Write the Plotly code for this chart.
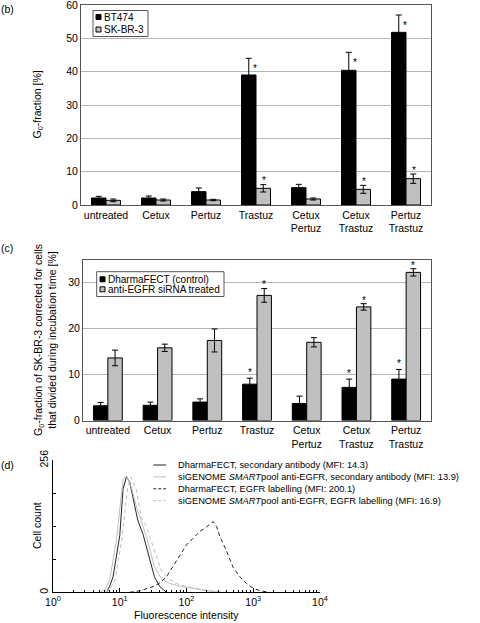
import plotly.graph_objects as go

W, H = 480, 623
def px(x): return x / W
def py(y): return 1 - y / H

FONT = "Liberation Sans, Arial, Helvetica, sans-serif"
GREY = "#c0c0c0"

# ---------------- data ----------------
categories = ["untreated", "Cetux", "Pertuz", "Trastuz",
              "Cetux<br>Pertuz", "Cetux<br>Trastuz", "Pertuz<br>Trastuz"]

# panel (b)
bt474 = [2.1, 2.1, 4.0, 39.0, 5.2, 40.4, 51.8]
bt474_err = [0.5, 0.6, 1.1, 5.0, 1.0, 5.4, 5.2]
skbr3 = [1.4, 1.5, 1.5, 5.0, 1.8, 4.7, 7.9]
skbr3_err = [0.4, 0.3, 0.2, 1.1, 0.3, 1.2, 1.4]
signif_b = [False, False, False, True, False, True, True]

# panel (c)
dharma = [3.2, 3.3, 4.0, 7.9, 3.7, 7.2, 9.0]
dharma_err = [0.7, 0.7, 0.7, 1.3, 1.6, 1.8, 2.1]
anti_egfr = [13.6, 15.8, 17.4, 27.2, 17.0, 24.7, 32.2]
anti_egfr_err = [1.7, 0.8, 2.5, 1.5, 1.0, 0.7, 0.8]
signif_c = [False, False, False, True, False, True, True]

# panel (d) histograms (fluorescence intensity, cell count)
df_sec_x = [6.31, 7.08, 7.94, 9.44, 10.0, 11.2, 12.6, 14.1, 15.8, 18.6, 22.4, 28.2, 33.1, 39.8, 44.7, 50.1]
df_sec_y = [0, 12, 30, 95, 110, 200, 224, 214, 185, 140, 112, 63, 30, 11, 5, 0]
sig_sec_x = [5.01, 6.03, 7.08, 8.91, 11.2, 12.6, 14.8, 17.8, 25.1, 33.1, 41.7, 56.2, 79.4, 126, 200, 316]
sig_sec_y = [0, 5, 24, 101, 218, 226, 205, 166, 108, 50, 27, 17, 12, 7, 3, 0]
df_egfr_x = [14.1, 20.0, 31.6, 39.8, 50.1, 70.8, 100, 126, 158, 200, 251, 282, 316, 398, 501, 631, 794, 1000, 1259, 1778]
df_egfr_y = [0, 3, 11, 18, 30, 62, 92, 105, 118, 127, 137, 128, 108, 80, 48, 30, 17, 8, 3, 0]
sig_egfr_x = [6.03, 7.08, 8.51, 10.7, 13.2, 14.8, 17.8, 20.9, 25.1, 29.5, 35.5, 41.7, 52.5, 70.8, 100, 200, 398]
sig_egfr_y = [0, 5, 24, 101, 205, 223, 198, 147, 127, 101, 69, 43, 27, 17, 11, 4, 0]

hist_names = [
    "DharmaFECT, secondary antibody (MFI: 14.3)",
    "siGENOME <i>SMART</i>pool anti-EGFR, secondary antibody (MFI: 13.9)",
    "DharmaFECT, EGFR labelling (MFI: 200.1)",
    "siGENOME <i>SMART</i>pool anti-EGFR, EGFR labelling (MFI: 16.9)",
]
hist_colors = ["#222222", "#bdbdbd", "#222222", "#bdbdbd"]
hist_dash = ["solid", "solid", "4px,3px", "4px,3px"]

decades = [1, 10, 100, 1000, 10000]
decade_labels = ["10<sup>0</sup>", "10<sup>1</sup>", "10<sup>2</sup>", "10<sup>3</sup>", "10<sup>4</sup>"]

# ---------------- figure ----------------
fig = go.Figure()
errstyle = dict(type="data", color="black", thickness=1, width=3)

fig.add_trace(go.Bar(x=categories, y=bt474, name="BT474", marker=dict(color="black", line=dict(color="black", width=1)),
                     error_y=dict(array=bt474_err, **errstyle), xaxis="x", yaxis="y", offsetgroup="1", showlegend=False))
fig.add_trace(go.Bar(x=categories, y=skbr3, name="SK-BR-3", marker=dict(color=GREY, line=dict(color="black", width=1)),
                     error_y=dict(array=skbr3_err, **errstyle), xaxis="x", yaxis="y", offsetgroup="2", showlegend=False))
fig.add_trace(go.Bar(x=categories, y=dharma, name="DharmaFECT (control)", marker=dict(color="black", line=dict(color="black", width=1)),
                     error_y=dict(array=dharma_err, **errstyle), xaxis="x2", yaxis="y2", offsetgroup="1", showlegend=False))
fig.add_trace(go.Bar(x=categories, y=anti_egfr, name="anti-EGFR siRNA treated", marker=dict(color=GREY, line=dict(color="black", width=1)),
                     error_y=dict(array=anti_egfr_err, **errstyle), xaxis="x2", yaxis="y2", offsetgroup="2", showlegend=False))

for xs, ys, nm, col, dsh in zip([df_sec_x, sig_sec_x, df_egfr_x, sig_egfr_x],
                                [df_sec_y, sig_sec_y, df_egfr_y, sig_egfr_y],
                                hist_names, hist_colors, hist_dash):
    fig.add_trace(go.Scatter(x=xs, y=ys, mode="lines", name=nm, line=dict(color=col, width=1, dash=dsh),
                             xaxis="x3", yaxis="y3", showlegend=False))

tickfont = dict(family=FONT, size=10.5, color="black")
frame = dict(showline=True, linecolor="#555555", linewidth=1, mirror=True)

fig.update_layout(
    width=W, height=H, margin=dict(l=0, r=0, t=0, b=0, autoexpand=False),
    paper_bgcolor="white", plot_bgcolor="white",
    barmode="group", bargap=0.42, bargroupgap=0,
    font=dict(family=FONT, size=10.5, color="black"),
    xaxis=dict(domain=[px(81), px(431)], anchor="y", tickfont=tickfont, ticks="", **frame),
    yaxis=dict(domain=[py(205), py(5)], anchor="x", range=[0, 60], dtick=10, tickfont=tickfont,
               ticklabeloverflow="allow",
               showgrid=True, gridcolor="#b5b5b5", gridwidth=1, zeroline=False, ticks="", **frame),
    xaxis2=dict(domain=[px(83), px(431)], anchor="y2", tickfont=tickfont, ticks="", **frame),
    yaxis2=dict(domain=[py(420.5), py(259.5)], anchor="x2", range=[0, 35], tickvals=[0, 10, 20, 30], tickfont=tickfont,
                showgrid=True, gridcolor="#b5b5b5", gridwidth=1, zeroline=False, ticks="", **frame),
    xaxis3=dict(domain=[px(53), px(320)], anchor="y3", type="log", range=[0, 4],
                tickmode="array", tickvals=decades, ticktext=decade_labels, tickfont=tickfont,
                ticks="inside", ticklen=4, tickcolor="black", showline=True, linecolor="black", linewidth=1,
                showgrid=False, zeroline=False,
                minor=dict(tickmode="array", tickvals=[m * d for d in decades[:-1] for m in range(2, 10)],
                           ticks="inside", ticklen=2, tickcolor="black", showgrid=False)),
    yaxis3=dict(domain=[py(592.3), py(460.3)], anchor="x3", range=[0, 256],
                tickmode="array", tickvals=[0, 64, 128, 192, 256], ticktext=["0", "", "", "", "256"],
                tickangle=-90, tickfont=tickfont, ticks="inside", ticklen=3, tickcolor="black",
                showline=True, linecolor="black", linewidth=1, showgrid=False, zeroline=False),
)

ann = []
shapes = []

def text(x, y, t, xanchor="left", yanchor="middle", size=10.5, angle=0):
    ann.append(dict(xref="paper", yref="paper", x=px(x), y=py(y), text=t, showarrow=False,
                    xanchor=xanchor, yanchor=yanchor, textangle=angle,
                    font=dict(family=FONT, size=size, color="black")))

# panel labels
text(-1, 9, "(b)", size=10.5)
text(-1, 248, "(c)", size=10.5)
text(-1, 465, "(d)", size=10.5)

# axis titles
text(37.5, 105, "G<sub>0</sub>-fraction [%]", xanchor="center", angle=-90, size=10.5)
text(45, 340, "G<sub>0</sub>-fraction of SK-BR-3 corrected for cells<br>that divided during incubation time [%]",
     xanchor="center", angle=-90, size=10.5)
text(37, 526, "Cell count", xanchor="center", angle=-90, size=10.5)
text(186.5, 615, "Fluorescence intensity", xanchor="center", size=10.5)

# significance asterisks
def star(xa, ya, cat, yv, xs, ys):
    ann.append(dict(xref=xa, yref=ya, x=cat, y=yv, text="*", showarrow=False, xshift=xs, yshift=ys,
                    xanchor="center", yanchor="middle", font=dict(family=FONT, size=10, color="black")))

for c, v, e, s in zip(categories, bt474, bt474_err, signif_b):
    if s: star("x", "y", c, v + e, -1.5, -10)
for c, v, e, s in zip(categories, skbr3, skbr3_err, signif_b):
    if s: star("x", "y", c, v + e, 7.5, 4)
for c, v, e, s in zip(categories, dharma, dharma_err, signif_c):
    if s: star("x2", "y2", c, v + e, -7.5, 6)
for c, v, e, s in zip(categories, anti_egfr, anti_egfr_err, signif_c):
    if s: star("x2", "y2", c, v + e, 7.3, 3.5)

def rect(x0, y0, x1, y1, fill, line="black", lw=1):
    shapes.append(dict(type="rect", xref="paper", yref="paper", x0=px(x0), x1=px(x1), y0=py(y1), y1=py(y0),
                       fillcolor=fill, line=dict(color=line, width=lw)))

# legend (b)
rect(93, 10.5, 148, 36.5, "white", "#555555")
rect(96, 14.5, 101, 19.5, "black")
rect(96, 27, 101, 32, GREY)
text(101.5, 17.3, "BT474", size=10)
text(101.5, 29.6, "SK-BR-3", size=10)

# legend (c)
rect(96.7, 271.7, 224, 296.5, "white", "#555555")
rect(100, 276.8, 105, 281.8, "black")
rect(100, 286.8, 105, 291.8, GREY)
text(106, 279.3, "DharmaFECT (control)", size=10)
text(106, 289.3, "anti-EGFR siRNA treated", size=10)

# legend (d)
for i, (nm, col, dsh) in enumerate(zip(hist_names, hist_colors, hist_dash)):
    yy = 465 + i * 11.9
    shapes.append(dict(type="line", xref="paper", yref="paper", x0=px(153.3), x1=px(166), y0=py(yy), y1=py(yy),
                       line=dict(color=col, width=1, dash=("solid" if dsh == "solid" else "3px,2px"))))
    text(175.5, yy, nm, size=9.3)

fig.update_layout(annotations=ann, shapes=shapes)
fig.write_html("out.html", config={"displayModeBar": False, "staticPlot": True},
               post_script="document.body.style.margin='0px';document.body.style.overflow='hidden';")
